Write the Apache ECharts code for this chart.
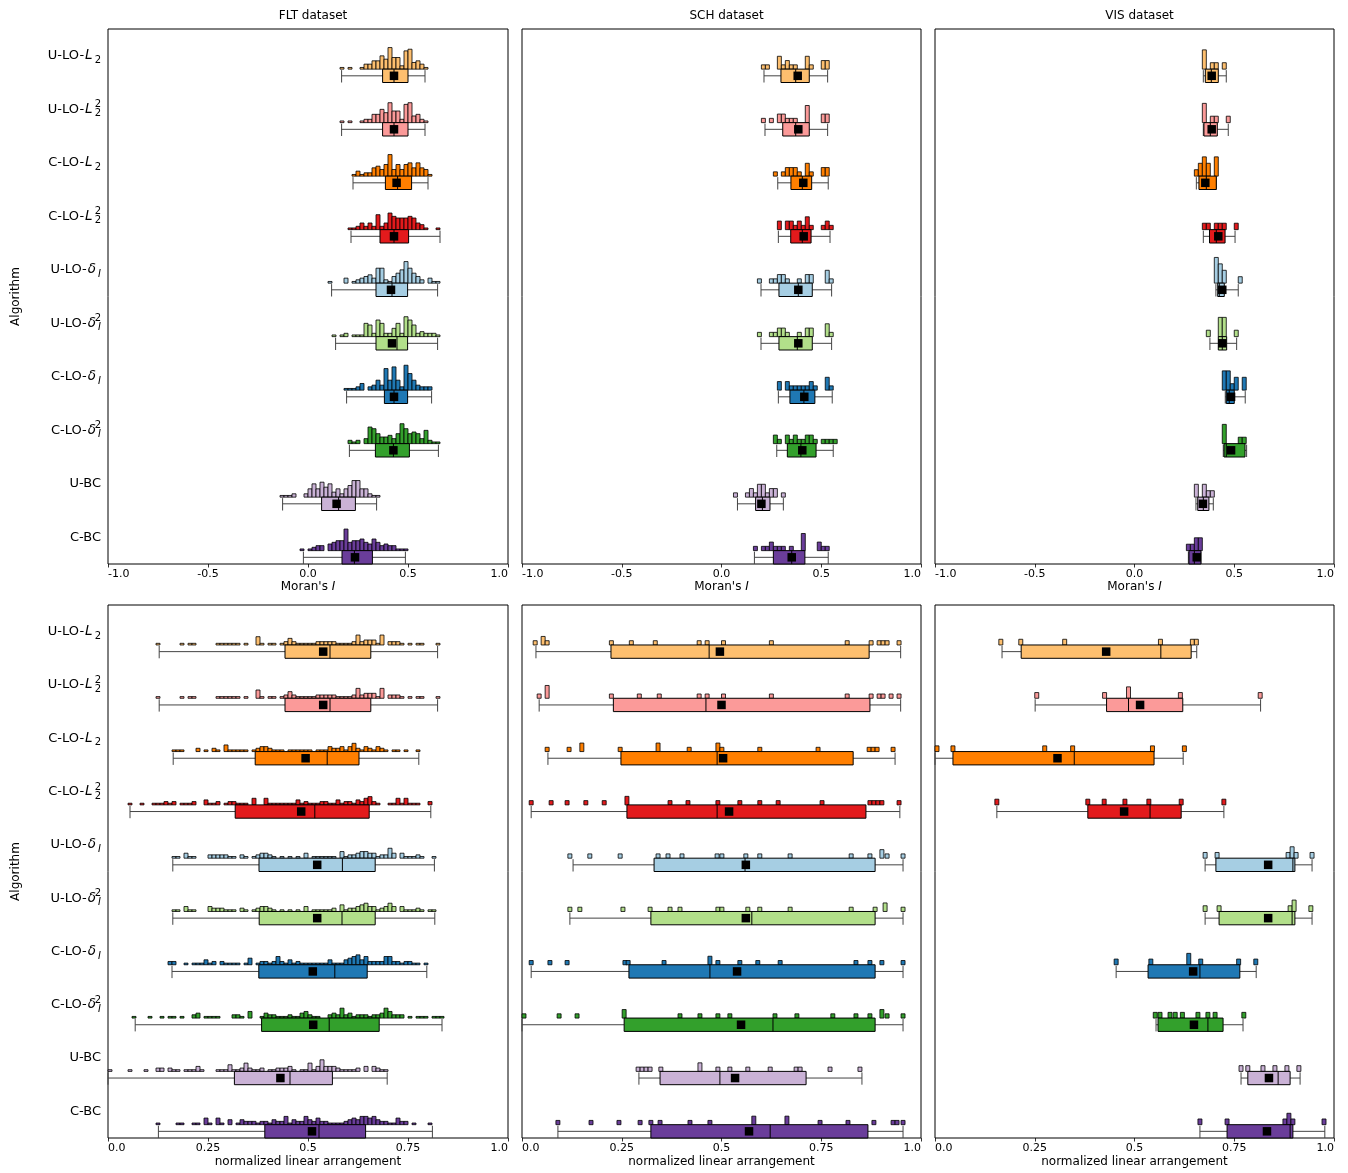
<!DOCTYPE html>
<html><head><meta charset="utf-8">
<script src="https://cdn.jsdelivr.net/npm/echarts@6/dist/echarts.min.js"></script>
<style>html,body{margin:0;padding:0;background:#fff}#chart{width:1348px;height:1173px}</style>
</head><body><div id="chart"></div><script>
// ---------------- data ----------------
const algorithms = ['U-LO-L_2', 'U-LO-L_2^2', 'C-LO-L_2', 'C-LO-L_2^2', 'U-LO-δ_I', 'U-LO-δ_I^2', 'C-LO-δ_I', 'C-LO-δ_I^2', 'U-BC', 'C-BC'];
const colors = ['#fdbf6f', '#fb9a99', '#ff7f00', '#e31a1c', '#a6cee3', '#b2df8a', '#1f78b4', '#33a02c', '#cab2d6', '#6a3d9a'];
const datasetTitles = ['FLT dataset', 'SCH dataset', 'VIS dataset'];
const moranTickLabels = ['-1.0', '-0.5', '0.0', '0.5', '1.0'];
const nlaTickLabels = ['0.0', '0.25', '0.5', '0.75', '1.0'];

// stats per algorithm: [whiskerLow, q1, median, q3, whiskerHigh, mean]
const fltMoranStats = [
  [0.168, 0.373, 0.43, 0.50, 0.585, 0.43], [0.168, 0.373, 0.43, 0.50, 0.585, 0.43],
  [0.225, 0.387, 0.448, 0.518, 0.60, 0.443], [0.215, 0.36, 0.43, 0.503, 0.66, 0.43],
  [0.118, 0.34, 0.42, 0.498, 0.648, 0.415], [0.138, 0.34, 0.445, 0.498, 0.648, 0.42],
  [0.193, 0.382, 0.43, 0.498, 0.618, 0.43], [0.207, 0.337, 0.427, 0.507, 0.652, 0.427],
  [-0.127, 0.068, 0.153, 0.237, 0.343, 0.143], [-0.023, 0.17, 0.232, 0.322, 0.487, 0.235]];
const fltMoranHistStart = [0.16, 0.16, 0.22, 0.20, 0.10, 0.12, 0.18, 0.20, -0.14, -0.04];
const fltMoranHistCounts = [
  [1,0,1,0,0,1,3,3,5,5,8,6,13,7,7,2,11,12,4,5,3,1],
  [1,0,1,0,0,1,2,2,5,5,8,6,12,7,7,2,11,12,4,5,2,1],
  [1,3,1,2,2,5,6,4,7,13,4,7,4,7,8,5,8,5,4,1],
  [1,1,2,4,2,4,2,9,2,4,10,8,7,7,7,8,7,4,3,1,0,0,1],
  [1,0,0,0,3,0,1,2,3,4,5,3,9,9,2,1,4,6,8,13,9,6,4,2,0,3,1,1],
  [1,0,1,2,0,1,1,1,8,7,2,10,8,2,2,5,8,2,12,10,7,2,3,2,2,2,1],
  [1,1,1,2,4,0,2,3,6,3,13,6,14,6,2,15,10,6,3,2,2,2],
  [2,1,2,0,3,10,9,6,4,4,5,3,6,12,9,6,7,6,3,8,2,1,1],
  [1,1,1,2,0,0,2,5,8,5,9,6,8,3,5,2,5,7,10,10,5,5,2,1,1],
  [1,0,1,2,3,3,0,4,5,6,6,13,5,6,6,7,5,4,7,5,3,4,3,3,1,1,1]];

const schMoranStats = [
  [0.213, 0.298, 0.372, 0.44, 0.532, 0.382], [0.218, 0.307, 0.372, 0.44, 0.532, 0.385],
  [0.282, 0.348, 0.405, 0.452, 0.535, 0.41], [0.285, 0.347, 0.405, 0.449, 0.544, 0.412],
  [0.198, 0.288, 0.385, 0.455, 0.552, 0.385], [0.198, 0.288, 0.38, 0.455, 0.552, 0.385],
  [0.285, 0.343, 0.413, 0.468, 0.555, 0.415], [0.277, 0.33, 0.398, 0.474, 0.56, 0.405],
  [0.08, 0.171, 0.205, 0.243, 0.31, 0.2], [0.165, 0.26, 0.352, 0.418, 0.535, 0.352]];
const schMoranHistStart = [0.20, 0.20, 0.26, 0.28, 0.18, 0.18, 0.28, 0.26, 0.06, 0.16];
const schMoranHistCounts = [
  [1,1,0,0,3,1,2,1,1,0,0,3,1,0,0,2,2],
  [1,0,1,0,2,2,1,1,1,0,0,4,0,0,0,2,2],
  [1,0,1,2,2,2,1,0,3,1,0,0,2,2],
  [2,0,2,2,1,2,1,3,1,0,0,1,2,1],
  [1,0,0,1,1,2,2,1,0,0,1,0,2,2,0,0,0,3,1],
  [1,0,0,1,1,2,2,1,0,0,1,0,2,2,0,0,0,3,1],
  [2,0,2,1,1,1,1,1,2,1,0,0,3,1],
  [2,1,0,2,1,2,1,1,2,2,1,0,1,1,1,1],
  [1,0,0,1,2,1,3,3,1,2,2,0,1],
  [1,0,1,1,2,1,1,1,0,1,0,0,4,0,0,0,2,1,1]];

const visMoranStats = [
  [0.345, 0.355, 0.385, 0.42, 0.46, 0.387], [0.345, 0.348, 0.38, 0.415, 0.47, 0.387],
  [0.31, 0.323, 0.36, 0.41, 0.41, 0.355], [0.345, 0.376, 0.41, 0.454, 0.504, 0.42],
  [0.408, 0.417, 0.425, 0.45, 0.52, 0.44], [0.378, 0.42, 0.44, 0.462, 0.512, 0.44],
  [0.455, 0.46, 0.475, 0.50, 0.555, 0.484], [0.445, 0.449, 0.46, 0.554, 0.562, 0.484],
  [0.308, 0.317, 0.345, 0.373, 0.395, 0.343], [0.27, 0.273, 0.30, 0.333, 0.333, 0.312]];
const visMoranHistStart = [0.34, 0.34, 0.30, 0.34, 0.40, 0.36, 0.44, 0.44, 0.30, 0.26];
const visMoranHistCounts = [
  [3,0,1,1,0,1], [3,0,1,1,0,0,1], [1,2,3,2,0,3], [1,1,0,1,1,1,0,0,1], [4,3,2,0,0,0,1],
  [1,0,0,3,3,0,0,1], [3,3,1,2,0,2], [3,0,0,0,1,1], [2,0,2,1,1], [1,1,2,2]];

const fltNlaStats = [
  [0.128, 0.4425, 0.555, 0.657, 0.824, 0.538], [0.128, 0.4425, 0.555, 0.657, 0.824, 0.538],
  [0.163, 0.368, 0.548, 0.6275, 0.777, 0.494], [0.055, 0.318, 0.517, 0.653, 0.807, 0.483],
  [0.162, 0.3775, 0.586, 0.668, 0.816, 0.523], [0.162, 0.378, 0.585, 0.668, 0.817, 0.523],
  [0.16, 0.377, 0.567, 0.648, 0.797, 0.512], [0.068, 0.384, 0.553, 0.678, 0.835, 0.513],
  [0.0, 0.316, 0.455, 0.561, 0.698, 0.431], [0.126, 0.392, 0.5275, 0.644, 0.811, 0.51]];
const fltNlaHistStart = [0.12, 0.12, 0.16, 0.05, 0.16, 0.16, 0.15, 0.06, 0.0, 0.12];
const fltNlaHistCounts = [
  [1,0,0,0,0,0,1,0,1,1,0,0,0,0,0,1,1,1,1,1,1,0,1,0,0,5,1,0,1,1,0,1,2,4,2,1,1,1,1,1,2,2,2,2,2,1,1,1,1,2,6,2,3,3,3,1,6,0,2,2,2,1,0,1,0,1,1,0,0,0,1],
  [1,0,0,0,0,0,1,0,1,1,0,0,0,0,0,1,1,1,1,1,1,0,1,0,0,5,1,0,1,1,0,1,2,4,2,1,1,1,1,1,2,2,2,2,2,1,1,1,1,2,6,2,3,3,3,1,6,0,2,2,2,1,0,1,0,1,1,0,0,0,1],
  [1,1,1,0,0,0,2,0,1,0,2,1,0,4,1,1,1,1,1,0,1,2,3,3,2,1,1,1,0,1,1,1,1,1,1,0,1,1,1,3,2,2,3,1,3,5,2,1,3,2,1,3,2,1,0,1,1,0,1,0,0,1],
  [1,0,0,1,0,0,1,1,1,2,1,2,0,1,1,1,2,0,0,3,1,1,2,0,1,2,2,1,1,1,0,4,0,0,4,1,1,1,1,1,1,1,3,1,2,1,1,1,2,2,1,1,3,1,2,2,1,3,2,4,5,2,1,0,0,1,1,4,1,4,1,1,1,0,0,2],
  [1,1,0,3,1,1,0,0,0,2,2,2,2,2,1,1,0,2,1,0,1,2,3,3,2,1,0,1,0,1,0,1,0,3,0,1,1,1,1,1,1,0,4,1,2,2,3,4,4,3,3,1,2,2,6,3,0,3,1,1,1,2,1,0,0,1],
  [1,1,0,3,1,1,0,0,0,3,2,2,2,1,1,1,0,2,1,0,1,2,3,3,2,1,0,1,0,1,0,1,0,3,0,1,1,1,1,1,2,0,4,1,2,2,3,4,5,3,3,1,2,3,5,3,0,3,1,1,1,2,1,0,1,1],
  [2,2,0,0,1,0,1,1,1,3,1,2,0,2,1,1,1,1,0,1,4,0,1,2,2,1,2,5,2,1,3,1,2,1,1,1,1,1,1,1,3,1,1,1,3,4,5,6,3,5,2,2,2,2,5,5,2,2,1,2,2,1,1,0,1],
  [1,0,0,0,1,0,0,1,0,1,1,0,1,0,0,2,3,0,1,1,1,1,0,0,0,2,2,1,0,4,0,0,1,3,2,2,1,1,1,2,1,1,3,4,2,1,1,0,0,2,3,2,6,2,3,1,2,2,2,1,2,2,3,6,4,2,2,2,0,1,0,1,1,1,0,1,1,1],
  [1,0,0,0,0,1,0,0,0,1,0,0,2,2,0,2,1,1,0,1,1,1,3,1,0,0,0,1,1,1,4,1,1,2,5,2,1,1,2,0,1,1,2,2,2,3,1,0,1,1,5,1,3,7,3,3,3,2,1,1,1,1,2,0,3,0,3,2,1,1],
  [1,0,0,0,0,1,1,0,0,1,1,0,4,1,0,4,1,0,3,0,1,3,2,2,2,1,2,2,1,3,2,2,5,1,3,2,2,5,3,2,4,2,2,1,1,1,1,2,3,4,3,5,5,4,5,3,2,2,1,1,4,2,2,0,1,0,0,0,1]];

const schNlaStats = [
  [0.035, 0.223, 0.469, 0.87, 0.949, 0.496], [0.043, 0.229, 0.461, 0.872, 0.949, 0.50],
  [0.065, 0.248, 0.489, 0.83, 0.935, 0.504], [0.023, 0.263, 0.489, 0.862, 0.947, 0.519],
  [0.128, 0.331, 0.559, 0.885, 0.955, 0.561], [0.12, 0.323, 0.576, 0.885, 0.955, 0.561],
  [0.023, 0.268, 0.471, 0.885, 0.955, 0.539], [0.0, 0.256, 0.629, 0.885, 0.955, 0.549],
  [0.293, 0.346, 0.496, 0.712, 0.852, 0.534], [0.09, 0.323, 0.622, 0.867, 0.955, 0.569]];
// sparse histograms: [bin left edge, count]
const schNlaHist = [
  [[0.028,1],[0.048,2],[0.058,1],[0.219,1],[0.269,1],[0.329,1],[0.439,1],[0.459,1],[0.50,1],[0.62,1],[0.81,1],[0.87,1],[0.89,1],[0.90,1],[0.91,1],[0.94,1]],
  [[0.038,1],[0.058,3],[0.219,1],[0.289,1],[0.339,1],[0.439,1],[0.459,1],[0.50,1],[0.62,1],[0.81,1],[0.87,1],[0.89,1],[0.90,1],[0.92,1],[0.94,1]],
  [[0.058,1],[0.113,1],[0.145,2],[0.241,1],[0.336,2],[0.414,1],[0.486,2],[0.496,1],[0.591,1],[0.737,1],[0.865,1],[0.875,1],[0.885,1],[0.925,1]],
  [[0.018,1],[0.068,1],[0.108,1],[0.155,1],[0.201,1],[0.258,2],[0.366,1],[0.411,1],[0.486,1],[0.541,1],[0.591,1],[0.637,1],[0.747,1],[0.867,1],[0.877,1],[0.887,1],[0.897,1],[0.94,1]],
  [[0.115,1],[0.165,1],[0.241,1],[0.336,1],[0.361,1],[0.396,1],[0.484,1],[0.496,1],[0.556,1],[0.591,1],[0.667,1],[0.82,1],[0.867,1],[0.897,2],[0.91,1],[0.95,1]],
  [[0.115,1],[0.14,1],[0.248,1],[0.316,1],[0.366,1],[0.391,1],[0.486,1],[0.496,1],[0.561,1],[0.591,1],[0.667,1],[0.82,1],[0.88,1],[0.905,2],[0.95,1]],
  [[0.018,1],[0.065,1],[0.108,1],[0.253,1],[0.261,1],[0.351,1],[0.466,2],[0.486,1],[0.541,1],[0.586,1],[0.642,1],[0.832,1],[0.867,1],[0.897,1],[0.95,1]],
  [[0.0,1],[0.088,1],[0.133,1],[0.251,2],[0.391,1],[0.441,1],[0.486,1],[0.516,1],[0.629,1],[0.684,1],[0.774,1],[0.832,1],[0.867,1],[0.897,2],[0.91,1],[0.95,1]],
  [[0.286,1],[0.296,1],[0.306,1],[0.316,1],[0.343,1],[0.441,2],[0.486,1],[0.516,1],[0.561,1],[0.617,1],[0.682,1],[0.692,1],[0.767,1],[0.842,1]],
  [[0.085,1],[0.168,1],[0.238,1],[0.291,1],[0.318,1],[0.341,1],[0.416,1],[0.466,1],[0.576,2],[0.659,2],[0.742,1],[0.812,1],[0.877,1],[0.925,1],[0.935,1],[0.95,1]]];

const visNlaStats = [
  [0.168, 0.216, 0.566, 0.642, 0.656, 0.429], [0.251, 0.43, 0.485, 0.621, 0.816, 0.514],
  [0.0, 0.045, 0.349, 0.549, 0.622, 0.307], [0.155, 0.383, 0.539, 0.617, 0.724, 0.474],
  [0.677, 0.704, 0.897, 0.902, 0.945, 0.835], [0.677, 0.712, 0.895, 0.902, 0.945, 0.835],
  [0.454, 0.534, 0.664, 0.764, 0.805, 0.647], [0.554, 0.559, 0.684, 0.722, 0.772, 0.649],
  [0.767, 0.784, 0.86, 0.89, 0.915, 0.837], [0.664, 0.732, 0.89, 0.897, 0.977, 0.832]];
const visNlaHist = [
  [[0.16,1],[0.21,1],[0.32,1],[0.56,1],[0.64,1],[0.65,1]],
  [[0.25,1],[0.42,1],[0.48,2],[0.61,1],[0.81,1]],
  [[0.0,1],[0.04,1],[0.27,1],[0.34,1],[0.54,1],[0.62,1]],
  [[0.15,1],[0.378,1],[0.419,1],[0.471,1],[0.531,1],[0.612,1],[0.719,1]],
  [[0.672,1],[0.702,1],[0.88,1],[0.89,2],[0.90,1],[0.94,1]],
  [[0.672,1],[0.707,1],[0.885,1],[0.895,2],[0.937,1]],
  [[0.449,1],[0.536,1],[0.631,2],[0.661,1],[0.756,1],[0.799,1]],
  [[0.547,1],[0.559,1],[0.584,1],[0.597,1],[0.615,1],[0.654,1],[0.679,1],[0.697,1],[0.769,1]],
  [[0.762,1],[0.779,1],[0.817,1],[0.847,1],[0.877,1],[0.907,1]],
  [[0.659,1],[0.727,1],[0.872,1],[0.882,2],[0.892,1],[0.97,1]]];

// ---------------- helpers ----------------
function densePairs(starts, counts, w) {
  return counts.map((arr, r) => arr.map((c, k) => [starts[r] + k * w, c]));
}
const FONT = 'DejaVu Sans';
const panels = [
  { col: 0, row: 0, stats: fltMoranStats, hist: densePairs(fltMoranHistStart, fltMoranHistCounts, 0.02), bin: 0.02, unit: 0.031 },
  { col: 1, row: 0, stats: schMoranStats, hist: densePairs(schMoranHistStart, schMoranHistCounts, 0.02), bin: 0.02, unit: 0.08 },
  { col: 2, row: 0, stats: visMoranStats, hist: densePairs(visMoranHistStart, visMoranHistCounts, 0.02), bin: 0.02, unit: 0.12 },
  { col: 0, row: 1, stats: fltNlaStats, hist: densePairs(fltNlaHistStart, fltNlaHistCounts, 0.01), bin: 0.01, unit: 0.031 },
  { col: 1, row: 1, stats: schNlaStats, hist: schNlaHist, bin: 0.01, unit: 0.08 },
  { col: 2, row: 1, stats: visNlaStats, hist: visNlaHist, bin: 0.01, unit: 0.107 }
];
const colLeft = [108, 522, 935], colWidth = [400, 399, 399];
const rowTop = [29, 605], rowHeight = [535, 533];

function labelRich(name) {
  const m = name.match(/^(.*-)(.)_(.)(\^2)?$/);
  if (!m) return '{n|' + name + '}';
  const subKey = m[3] === 'I' ? 'subi' : 'sub';
  return '{n|' + m[1] + '}{i|' + m[2] + '}{' + subKey + '|' + m[3] + '}' + (m[4] ? '{sup|2}' : '');
}
const yRich = {
  n: { fontFamily: FONT, fontSize: 13, lineHeight: 19, color: '#000' },
  i: { fontFamily: FONT, fontSize: 13.5, fontStyle: 'italic', lineHeight: 19, padding: [0, 2, 0, 1], color: '#000' },
  sub: { fontFamily: FONT, fontSize: 10, lineHeight: 9, verticalAlign: 'bottom', color: '#000' },
  subi: { fontFamily: FONT, fontSize: 10, fontStyle: 'italic', lineHeight: 9, verticalAlign: 'bottom', color: '#000' },
  sup: { fontFamily: FONT, fontSize: 10, lineHeight: 9, verticalAlign: 'top', width: 0.01, color: '#000' }
};

function makeRender(p) {
  return function (params, api) {
    const r = api.value(1);
    const s = p.stats[r];
    const color = colors[r];
    const cy = api.coord([0, r])[1];
    const band = api.size([0, 1])[1];
    const X = v => api.coord([v, r])[0];
    const boxTop = cy + band * 0.25, boxBot = cy + band * 0.5, mid = (boxTop + boxBot) / 2;
    const ch = [];
    p.hist[r].forEach(([left, c]) => {
      if (!c) return;
      const x0 = X(left), x1 = X(left + p.bin), h = c * p.unit * band;
      ch.push({ type: 'rect', shape: { x: x0, y: boxTop - h, width: x1 - x0, height: h },
        style: { fill: color, stroke: '#000', lineWidth: 0.8 } });
    });
    const wStyle = { stroke: '#444', lineWidth: 1 };
    ch.push({ type: 'line', shape: { x1: X(s[0]), y1: mid, x2: X(s[1]), y2: mid }, style: wStyle });
    ch.push({ type: 'line', shape: { x1: X(s[3]), y1: mid, x2: X(s[4]), y2: mid }, style: wStyle });
    ch.push({ type: 'line', shape: { x1: X(s[0]), y1: boxTop + 1, x2: X(s[0]), y2: boxBot }, style: wStyle });
    ch.push({ type: 'line', shape: { x1: X(s[4]), y1: boxTop + 1, x2: X(s[4]), y2: boxBot }, style: wStyle });
    ch.push({ type: 'rect', shape: { x: X(s[1]), y: boxTop, width: X(s[3]) - X(s[1]), height: boxBot - boxTop },
      style: { fill: color, stroke: '#000', lineWidth: 1 } });
    ch.push({ type: 'line', shape: { x1: X(s[2]), y1: boxTop, x2: X(s[2]), y2: boxBot }, style: { stroke: '#000', lineWidth: 1 } });
    const ms = 8.5;
    ch.push({ type: 'rect', shape: { x: X(s[5]) - ms / 2, y: mid - ms / 2, width: ms, height: ms }, style: { fill: '#000' } });
    return { type: 'group', children: ch };
  };
}

const grid = [], xAxis = [], yAxis = [], series = [], title = [];
panels.forEach((p, idx) => {
  const isMoran = p.row === 0;
  grid.push({ left: colLeft[p.col], top: rowTop[p.row], width: colWidth[p.col], height: rowHeight[p.row],
    show: true, borderColor: '#000', borderWidth: 1, backgroundColor: 'transparent' });
  const labels = isMoran ? moranTickLabels : nlaTickLabels;
  const mn = isMoran ? -1 : 0, step = isMoran ? 0.5 : 0.25;
  xAxis.push({ type: 'value', gridIndex: idx, min: mn, max: 1, interval: step,
    axisLine: { show: false }, splitLine: { show: false },
    axisTick: { show: true, length: 3.5, lineStyle: { color: '#000', width: 0.8 } },
    axisLabel: { fontFamily: FONT, fontSize: 11, color: '#000', margin: 5, alignMinLabel: 'left', alignMaxLabel: 'right',
      showMinLabel: true, showMaxLabel: true,
      formatter: v => labels[Math.round((v - mn) / step)] },
    name: isMoran ? "{n|Moran's }{i|I}" : 'normalized linear arrangement',
    nameLocation: 'middle', nameGap: isMoran ? 16 : 18,
    nameTextStyle: { fontFamily: FONT, fontSize: 12, color: '#000',
      rich: { n: { fontFamily: FONT, fontSize: 12, color: '#000' }, i: { fontFamily: FONT, fontSize: 12, fontStyle: 'italic', color: '#000' } } } });
  yAxis.push({ type: 'category', gridIndex: idx, data: algorithms, inverse: true,
    axisLine: { show: false }, axisTick: { show: false }, splitLine: { show: false },
    axisLabel: { show: p.col === 0, interval: 0, margin: 7, formatter: labelRich, rich: yRich },
    name: p.col === 0 ? 'Algorithm' : '', nameLocation: 'middle', nameGap: 86, nameRotate: 90,
    nameTextStyle: { fontFamily: FONT, fontSize: 12, color: '#000' } });
  series.push({ type: 'custom', xAxisIndex: idx, yAxisIndex: idx, coordinateSystem: 'cartesian2d',
    encode: { x: 0, y: 1 }, data: algorithms.map((a, i) => [p.stats[i][2], i]), renderItem: makeRender(p), silent: true });
});
datasetTitles.forEach((t, c) => {
  title.push({ text: t, left: colLeft[c] + colWidth[c] / 2, top: 5, textAlign: 'center',
    textStyle: { fontFamily: FONT, fontSize: 12, fontWeight: 'normal', color: '#000' } });
});

const chart = echarts.init(document.getElementById('chart'), null, { renderer: 'canvas' });
chart.setOption({ animation: false, backgroundColor: '#fff', title, grid, xAxis, yAxis, series });
</script></body></html>
